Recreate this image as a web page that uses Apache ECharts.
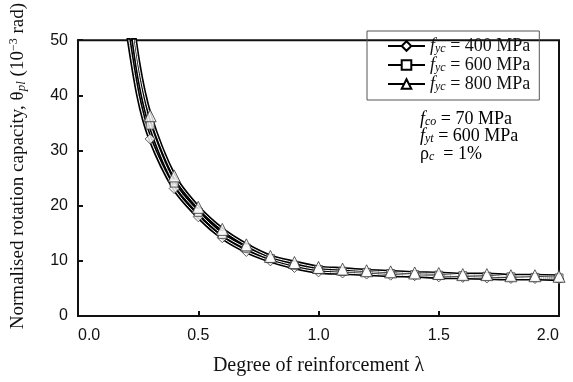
<!DOCTYPE html>
<html>
<head>
<meta charset="utf-8">
<script src="https://cdn.jsdelivr.net/npm/echarts@6/dist/echarts.min.js"></script>
<style>html,body{margin:0;padding:0;background:#fff}#c{width:573px;height:382px}</style>
</head>
<body>
<div id="c"></div>
<script>
// Degree of reinforcement λ
const lambda = [0.2, 0.25, 0.3, 0.4, 0.5, 0.6, 0.7, 0.8, 0.9, 1.0, 1.1, 1.2, 1.3, 1.4, 1.5, 1.6, 1.7, 1.8, 1.9, 2.0];
// Normalised rotation capacity θpl (10^-3 rad)
const fyc400 = [53.4, 40.0, 32.1, 23.1, 18.0, 14.2, 11.7, 10.0, 8.8, 8.0, 7.8, 7.6, 7.4, 7.3, 7.1, 7.0, 6.9, 6.8, 6.8, 6.7];
const fyc600 = [60.5, 44.2, 34.6, 24.1, 18.8, 14.8, 12.3, 10.4, 9.2, 8.4, 8.1, 7.9, 7.7, 7.5, 7.4, 7.3, 7.2, 7.1, 7.0, 6.9];
const fyc800 = [63.0, 46.2, 36.3, 25.4, 19.7, 15.7, 12.9, 10.8, 9.7, 8.8, 8.5, 8.2, 8.0, 7.8, 7.7, 7.5, 7.5, 7.3, 7.3, 7.2];
const markerStart = 2; // markers drawn from λ = 0.3
const seriesNames = ['fyc = 400 MPa', 'fyc = 600 MPa', 'fyc = 800 MPa'];
const seriesValues = [fyc400, fyc600, fyc800];
const seriesSymbols = ['diamond', 'rect', 'triangle'];
const symbolSizes = [10, 8, 12];
const xTicks = [0, 0.5, 1.0, 1.5, 2.0];
const yTicks = [0, 10, 20, 30, 40, 50];

const serif = '"Liberation Serif", "DejaVu Serif", serif';
const sans = '"Liberation Sans", Arial, sans-serif';

function pairs(vals, from) {
  const out = [];
  for (let i = from; i < lambda.length; i++) out.push([lambda[i], vals[i]]);
  return out;
}

const series = [];
seriesValues.forEach((vals, k) => {
  series.push({
    name: seriesNames[k], type: 'line', data: pairs(vals, 0), smooth: 0.3,
    showSymbol: false, symbol: seriesSymbols[k], symbolSize: symbolSizes[k],
    itemStyle: { color: '#fff', borderColor: '#000', borderWidth: 1.2 },
    lineStyle: { color: '#000', width: 4.2 }, z: 2, silent: true, clip: true
  });
});
seriesValues.forEach((vals, k) => {
  series.push({
    type: 'line', data: pairs(vals, 0), smooth: 0.3, showSymbol: false, symbol: 'none',
    lineStyle: { color: '#fff', width: 1 }, z: 3, silent: true, clip: true
  });
});
seriesValues.forEach((vals, k) => {
  series.push({
    type: 'scatter', data: pairs(vals, markerStart), symbol: seriesSymbols[k], symbolSize: symbolSizes[k],
    itemStyle: { color: '#fff', borderColor: '#333', borderWidth: 1 }, z: 4 + k, silent: true
  });
});

const rich = {
  i: { fontFamily: serif, fontStyle: 'italic', fontSize: 18, color: '#111' },
  s: { fontFamily: serif, fontStyle: 'italic', fontSize: 12, color: '#111', verticalAlign: 'bottom', padding: [6, 0, 0, 0] },
  n: { fontFamily: serif, fontSize: 18, color: '#111' }
};

const chart = echarts.init(document.getElementById('c'), null, { renderer: 'canvas' });
chart.setOption({
  backgroundColor: '#fff',
  animation: false,
  grid: { left: 74, right: 14, top: 16, bottom: 66, show: true, borderColor: '#111', borderWidth: 2, backgroundColor: 'transparent' },
  legend: {
    data: seriesNames, orient: 'vertical', left: 367, top: 31,
    itemWidth: 37, itemHeight: 12, itemGap: 1,
    padding: [6, 9, 7, 20], borderColor: '#555', borderWidth: 1,
    formatter: function (name) {
      const v = name.split(' = ')[1];
      return '{i|f}{s|yc}{n| = ' + v + '}';
    },
    textStyle: { rich: rich }
  },
  xAxis: {
    type: 'value', min: 0, max: 2, interval: 0.5,
    name: 'Degree of reinforcement λ', nameLocation: 'middle', nameGap: 40,
    nameTextStyle: { fontFamily: serif, fontSize: 20, color: '#111' },
    axisLine: { lineStyle: { color: '#111', width: 2 } },
    axisTick: { inside: true, length: 5, lineStyle: { color: '#111', width: 2 } },
    axisLabel: { fontFamily: sans, fontSize: 16, color: '#111', margin: 12,
      alignMinLabel: 'left', alignMaxLabel: 'right',
      formatter: v => xTicks.indexOf(v) >= 0 ? v.toFixed(1) : '' },
    splitLine: { show: false }
  },
  yAxis: {
    type: 'value', min: 0, max: 50, interval: 10,
    name: 'Normalised rotation capacity, θ{sb|pl} (10{sp|−3} rad)', nameLocation: 'middle', nameGap: 50, nameRotate: 90,
    nameTextStyle: { fontFamily: serif, fontSize: 19, color: '#111', padding: [0, 0, 0, 24],
      rich: {
        sb: { fontFamily: serif, fontStyle: 'italic', fontSize: 13, color: '#111', verticalAlign: 'bottom', padding: [7, 0, 0, 0] },
        sp: { fontFamily: serif, fontSize: 12, color: '#111', verticalAlign: 'top', padding: [0, 0, 7, 0] }
      } },
    axisLine: { lineStyle: { color: '#111', width: 2 } },
    axisTick: { inside: true, length: 5, lineStyle: { color: '#111', width: 2 } },
    axisLabel: { fontFamily: sans, fontSize: 16, color: '#111', margin: 10,
      formatter: v => yTicks.indexOf(v) >= 0 ? String(v) : '' },
    splitLine: { show: false }
  },
  graphic: [
    { type: 'text', left: 420, top: 110, style: { text: '{i|f}{s|co}{n| = 70 MPa}', rich: rich } },
    { type: 'text', left: 420, top: 127, style: { text: '{i|f}{s|yt}{n| = 600 MPa}', rich: rich } },
    { type: 'text', left: 420, top: 145, style: { text: '{n|ρ}{s|c}{n|  = 1%}', rich: rich } }
  ],
  series: series
});
</script>
</body>
</html>
